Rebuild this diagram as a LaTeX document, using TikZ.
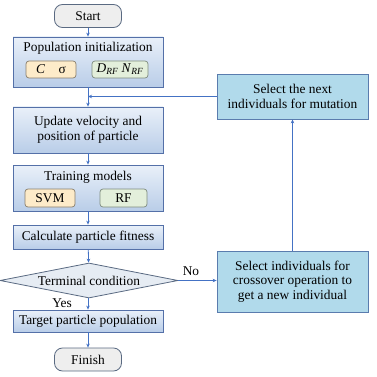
\documentclass[tikz,border=0pt]{standalone}
\usepackage{fontspec}
\setmainfont{Liberation Serif}
\usepackage{tikz}
\usetikzlibrary{shapes.geometric, positioning, arrows.meta, calc}

\definecolor{lineblue}{HTML}{4472C4}
\definecolor{termfill}{HTML}{EEEEEE}
\definecolor{termedge}{HTML}{5A6A82}
\definecolor{boxtop}{HTML}{E9F0F9}
\definecolor{boxbot}{HTML}{B9CDE8}
\definecolor{boxedge}{HTML}{5470A8}
\definecolor{sidefill}{HTML}{B1DAEB}
\definecolor{sideedge}{HTML}{5A7CAE}
\definecolor{svmfill}{HTML}{FDEBC9}
\definecolor{svmedge}{HTML}{8A7F6C}
\definecolor{rffill}{HTML}{E3EFDB}
\definecolor{rfedge}{HTML}{7F8C7F}
\definecolor{diafill}{HTML}{E6ECF3}

\begin{document}
\begin{tikzpicture}[x=1pt, y=-1pt,
    font=\fontsize{13.4}{14.5}\selectfont,
    terminal/.style={draw=termedge, fill=termfill, line width=0.8pt, rounded corners=8pt, minimum width=67pt, minimum height=23pt, inner sep=0pt},
    procbox/.style={draw=boxedge, top color=boxtop, bottom color=boxbot, line width=0.8pt, minimum width=150pt, inner sep=0pt, align=center},
    sidebox/.style={draw=sideedge, fill=sidefill, line width=0.8pt, minimum width=151pt, inner sep=0pt, align=center},
    parambox/.style={line width=0.7pt, rounded corners=3pt, minimum height=17pt, inner sep=0pt},
    decision/.style={diamond, draw=termedge, fill=diafill, line width=0.8pt, aspect=5.1, minimum width=178pt, minimum height=35pt, inner sep=0pt},
    flow/.style={draw=lineblue, line width=0.8pt, -{Stealth[length=4pt, width=3.5pt]}}
]
    \useasboundingbox (0,0) rectangle (377,377);

    \node[terminal] (start) at (88,16) {Start};

    \node[procbox, minimum height=50pt] (init) at (88,62) {};
    \node (inittxt) at (88,48) {Population initialization};
    \node[parambox, draw=svmedge, fill=svmfill, minimum width=50pt] (hyper) at (51,69.5) {\textit{C}\quad σ};
    \node[parambox, draw=rfedge, fill=rffill, minimum width=56pt] (forest) at (120,69.5) {\textit{D}\textsubscript{\textit{RF}} \textit{N}\textsubscript{\textit{RF}}};

    \node[procbox, minimum height=46pt] (update) at (88,130) {Update velocity and\\position of particle};

    \node[procbox, minimum height=46pt] (train) at (88,188) {};
    \node (traintxt) at (88,177) {Training models};
    \node[parambox, draw=svmedge, fill=svmfill, minimum width=50pt, minimum height=18pt] (svm) at (50,198) {SVM};
    \node[parambox, draw=rfedge, fill=rffill, minimum width=47pt, minimum height=18pt] (rf) at (123.5,198) {RF};

    \node[procbox, minimum height=24pt] (fit) at (88,237) {Calculate particle fitness};
    \node[decision] (term) at (89,280.5) {Terminal condition};
    \node[procbox, minimum height=22pt] (target) at (88,321) {Target particle population};
    \node[terminal] (finish) at (88,359.5) {Finish};

    \node[sidebox, minimum height=45pt] (mut) at (292.5,96.5) {Select the next\\individuals for mutation};
    \node[sidebox, minimum height=61pt] (cross) at (292.5,281.5) {Select individuals for\\crossover operation to\\get a new individual};

    \coordinate (join) at (88,96.5);

    % main column
    \draw[flow] (start) -- (init);
    \draw[flow] (init) -- (update);
    \draw[flow] (update) -- (train);
    \draw[flow] (train) -- (fit);
    \draw[flow] (fit) -- (term);
    \draw[flow] (term.south -| target.north) -- (target);
    \draw[flow] (target) -- (finish);
    \node (yes) at (62,303.5) {Yes};

    % loop back
    \draw[flow] (term.east) -- (term.east -| cross.west);
    \node (no) at (191,271) {No};
    \draw[flow] (cross) -- (mut);
    \draw[flow] (mut.west) -- (join);
\end{tikzpicture}
\end{document}
